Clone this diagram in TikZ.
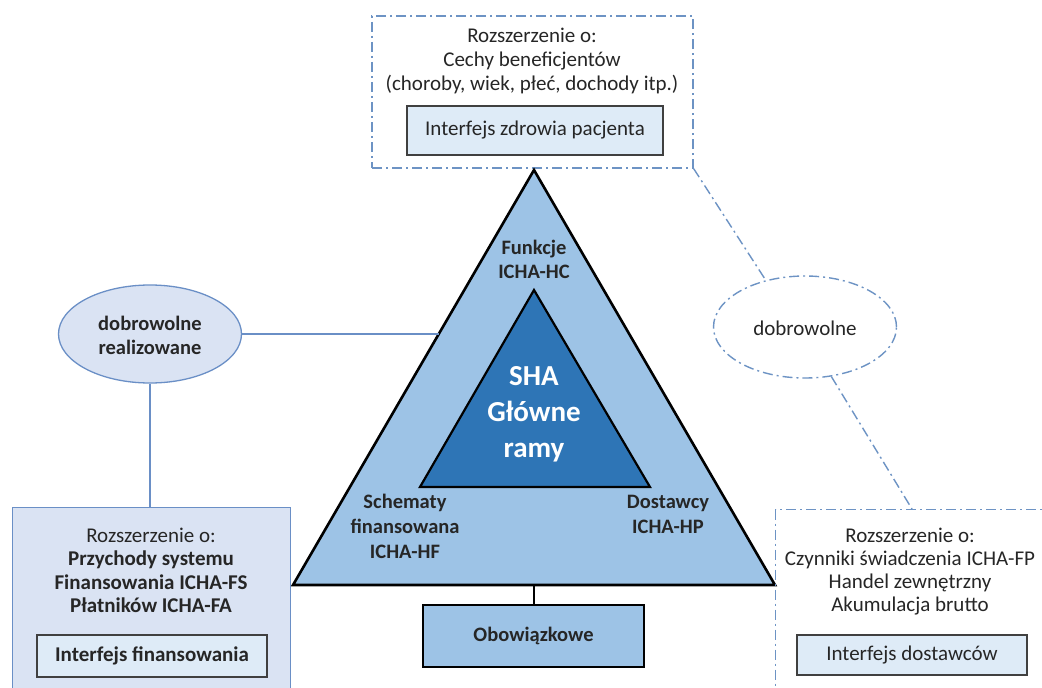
\documentclass[tikz,border=0pt]{standalone}
\usepackage{fontspec}
\setmainfont{Carlito}
\usetikzlibrary{shapes.geometric}
\definecolor{lightfill}{HTML}{DAE3F3}
\definecolor{paleblue}{HTML}{DEEBF7}
\definecolor{midblue}{HTML}{9DC3E6}
\definecolor{darkblue}{HTML}{2E75B6}
\definecolor{linkblue}{HTML}{6A8FC6}
\definecolor{dashblue}{HTML}{6D93C4}
\definecolor{boxedge}{HTML}{404040}
\tikzset{
  txt/.style={font=\fontsize{21}{24}\selectfont, align=center, inner sep=0pt, text=black!85},
  btxt/.style={txt, font=\fontsize{20.5}{24}\selectfont\bfseries},
  dashdot/.style={draw=dashblue, line width=1.4pt, dash pattern=on 10pt off 4pt on 2pt off 4pt},
  iface/.style={rectangle, fill=paleblue, draw=boxedge, line width=1.3pt, inner sep=0pt, font=\fontsize{21}{24}\selectfont, text=black!85},
  link/.style={draw=linkblue, line width=1.3pt},
}
\begin{document}
\begin{tikzpicture}[x=1pt,y=-1pt]
\clip (0,0) rectangle (1042,688);
\fill[white] (0,0) rectangle (1042,688);

% top dashed box
\node[rectangle, dashdot, minimum width=321pt, minimum height=152pt, inner sep=0pt] (topbox) at (532.5,92) {};
\node[txt] (toptxt) at (532,61) {\fontsize{21}{26}\selectfont Rozszerzenie o:\\Cechy beneficjentów\\(choroby, wiek, płeć, dochody itp.)};
\node[iface, minimum width=256pt, minimum height=49pt] (hz) at (535,130.5) {Interfejs zdrowia pacjenta};

% triangles
\coordinate (oA) at (534,170);
\coordinate (oB) at (293,585);
\coordinate (oC) at (775,585);
\filldraw[fill=midblue, draw=black, line width=2.6pt, line join=miter] (oA) -- (oB) -- (oC) -- cycle;
\coordinate (iA) at (534,290);
\coordinate (iB) at (420,487);
\coordinate (iC) at (650,487);
\filldraw[fill=darkblue, draw=black, line width=2.2pt, line join=miter] (iA) -- (iB) -- (iC) -- cycle;

\node[btxt] (hc) at (534,259) {Funkcje\\ICHA-HC};
\node[btxt, text=white, font=\fontsize{29}{36}\selectfont\bfseries] (sha) at (534,414) {SHA\\Główne\\ramy};
\node[btxt, font=\fontsize{20.5}{25}\selectfont\bfseries] (hf) at (405,526) {Schematy\\finansowana\\ICHA-HF};
\node[btxt, font=\fontsize{20.5}{25}\selectfont\bfseries] (hp) at (668,514) {Dostawcy\\ICHA-HP};

% obowiazkowe
\node[rectangle, fill=midblue, draw=black, line width=2.6pt, minimum width=221pt, minimum height=62pt, inner sep=0pt, font=\fontsize{20.5}{24}\selectfont\bfseries, text=black!85] (obo) at (533.5,636) {Obowiązkowe};
\coordinate (triBot) at (534,585);
\draw[black, line width=2pt] (triBot) -- (triBot |- obo.north);

% left ellipse
\node[ellipse, fill=lightfill, draw=linkblue, line width=1.3pt, minimum width=183pt, minimum height=98pt, inner sep=0pt] (lell) at (150,334) {};
\node[btxt] (lelltxt) at (150,335) {dobrowolne\\realizowane};
\coordinate (triL) at (439,334);
\draw[link] (lell.east) -- (triL);

% left box
\node[rectangle, fill=lightfill, draw=linkblue, line width=1.3pt, minimum width=278pt, minimum height=200pt, inner sep=0pt, anchor=north west] (lbox) at (12,507) {};
\draw[link] (lell.south) -- (lell.south |- lbox.north);
\node[txt] (ltxt1) at (151,535) {Rozszerzenie o:};
\node[btxt, font=\fontsize{21}{23.5}\selectfont\bfseries] (ltxt2) at (151,582) {Przychody systemu\\Finansowania ICHA-FS\\Płatników ICHA-FA};
\node[iface, minimum width=230pt, minimum height=42pt, font=\fontsize{21}{24}\selectfont\bfseries] (fin) at (152,656) {Interfejs finansowania};

% right dashed ellipse
\node[ellipse, dashdot, minimum width=183pt, minimum height=102pt, inner sep=0pt] (dob) at (805,327) {};
\node[txt] (dobtxt) at (805,328) {dobrowolne};

% right box
\node[rectangle, dashdot, minimum width=290pt, minimum height=200pt, inner sep=0pt, anchor=north west] (rbox) at (775,509) {};
\node[txt, font=\fontsize{21}{23}\selectfont] (rtxt) at (910,572) {Rozszerzenie o:\\Czynniki świadczenia ICHA-FP\\Handel zewnętrzny\\Akumulacja brutto};
\node[iface, minimum width=230pt, minimum height=40pt] (dost) at (912,655) {Interfejs dostawców};

% dashed connectors
\coordinate (rtop) at (912,509);
\draw[dashdot] (topbox.south east) -- (dob.130);
\draw[dashdot] (dob.-62) -- (rtop);
\end{tikzpicture}
\end{document}
